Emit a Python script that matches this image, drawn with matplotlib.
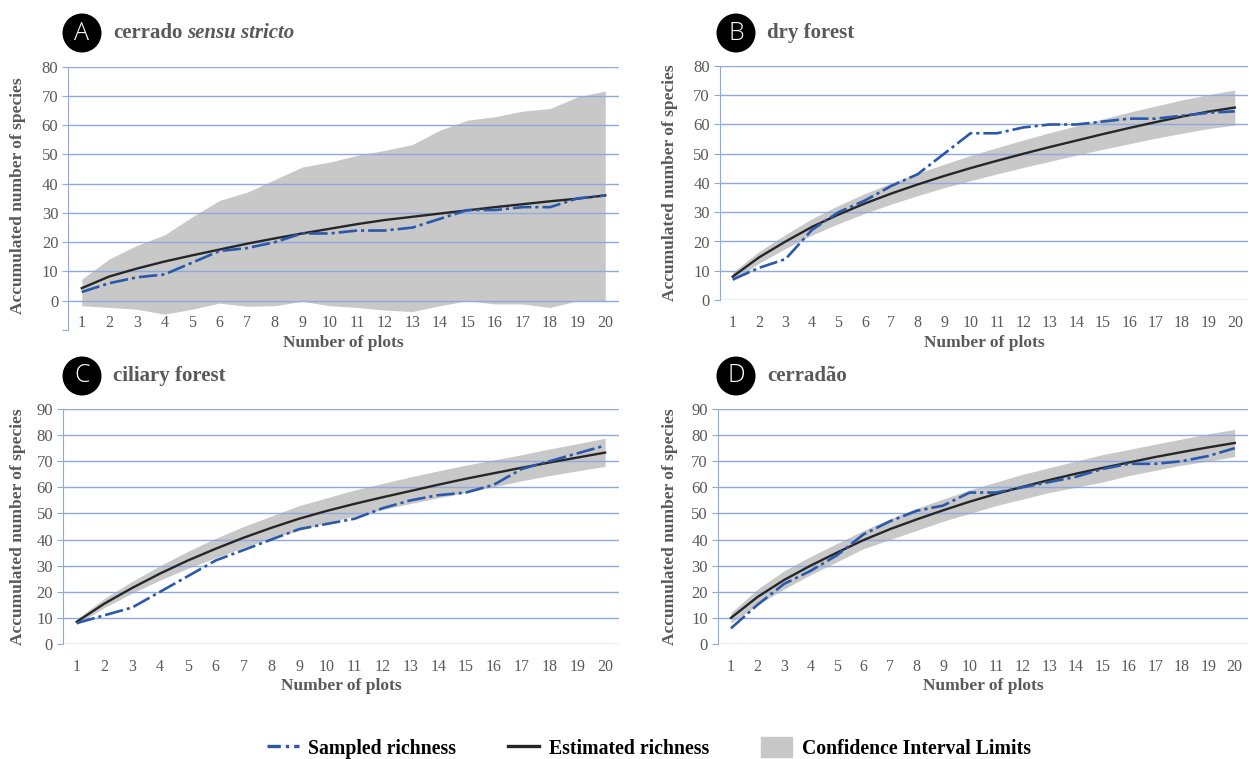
import matplotlib
matplotlib.use("Agg")
import matplotlib.pyplot as plt
from matplotlib.lines import Line2D
from matplotlib.patches import Patch, Ellipse

plt.rcParams['font.family'] = ['Liberation Serif', 'DejaVu Serif']

W, H = 1249, 759

plots = list(range(1, 21))

# A - cerrado sensu stricto
a_sampled = [3, 6, 8, 9, 13, 17, 18, 20, 23, 23, 24, 24, 25, 28, 31, 31, 32, 32, 35, 36]
a_estimated = [4.3, 8.3, 11.0, 13.4, 15.5, 17.5, 19.5, 21.3, 23.0, 24.6, 26.2, 27.6, 28.7, 29.8, 30.9, 32.0, 33.0, 34.0, 34.9, 36.0]
a_upper = [7.4, 14.3, 18.9, 22.5, 28.6, 34.3, 37.1, 41.4, 45.7, 47.4, 49.7, 51.4, 53.4, 58.3, 61.7, 62.9, 64.8, 65.7, 69.7, 71.7]
a_lower = [-1.7, -2.3, -2.9, -4.6, -2.9, -0.8, -1.9, -1.7, -0.2, -1.7, -2.3, -3.2, -3.7, -1.7, 0, -1.1, -1.1, -2.3, 0, 0]

# B - dry forest
b_sampled = [7, 11, 14, 24, 30, 34, 39, 43, 50, 57, 57, 59, 60, 60, 61, 62, 62, 63, 64, 64.5]
b_estimated = [8, 14.6, 20, 25, 29.2, 33, 36.4, 39.5, 42.4, 45.1, 47.6, 50, 52.3, 54.5, 56.7, 58.8, 60.8, 62.7, 64.4, 65.8]
b_upper = [9.5, 16.6, 22.4, 27.8, 32.3, 36.4, 40.0, 43.3, 46.4, 49.4, 52.1, 54.7, 57.2, 59.5, 61.9, 64.2, 66.3, 68.4, 70.2, 71.8]
b_lower = [6.5, 12.6, 17.6, 22.2, 26.1, 29.6, 32.8, 35.7, 38.4, 40.8, 43.1, 45.3, 47.4, 49.5, 51.5, 53.4, 55.3, 57.0, 58.6, 59.8]

# C - ciliary forest
c_sampled = [8, 11, 14, 20, 26, 32, 36, 40, 44, 46, 48, 52, 55, 57, 58, 61, 67, 70, 73, 76]
c_estimated = [8.5, 15.5, 21.5, 27, 32, 36.5, 40.7, 44.5, 48, 51, 53.7, 56.2, 58.6, 61, 63.3, 65.4, 67.5, 69.5, 71.4, 73.3]
c_upper = [9.5, 17.5, 24, 30, 35.5, 40.5, 45, 49, 53, 56, 59, 61.5, 64, 66.3, 68.5, 70.5, 72.5, 74.7, 76.7, 78.8]
c_lower = [7.5, 14, 19.5, 24.5, 29, 33, 37, 40.5, 43.5, 46.5, 49, 51.5, 53.8, 56, 58, 60.2, 62.5, 64.5, 66.3, 68]

# D - cerradão
d_sampled = [6, 15, 23, 28, 34, 42, 47, 51, 53, 58, 58, 60, 62, 64, 67, 69, 69, 70, 72, 75]
d_estimated = [10, 18, 24.5, 30, 35, 39.8, 44, 47.7, 51.2, 54.5, 57.5, 60.2, 62.8, 65.2, 67.4, 69.5, 71.6, 73.5, 75.3, 77]
d_upper = [12, 21, 28, 33.5, 38.5, 43.5, 48, 52, 55.5, 59, 62, 65, 67.5, 70, 72.5, 74.5, 76.5, 78.5, 80.5, 82.2]
d_lower = [8, 15, 21, 26.5, 31.5, 36.5, 40, 43.5, 47, 50, 53, 55.5, 58, 60, 62, 64.5, 66.5, 68.5, 70, 71.8]

blue = '#2A58AA'
black = '#262626'
ci_gray = '#C8C8C8'
grid_blue = '#8EA9DB'
text_gray = '#595959'
dash_style = [7, 1.5, 1.2, 1.5]

fig = plt.figure(figsize=(W / 100, H / 100), dpi=100)


def px(left, top, right, bottom):
    return [left / W, 1 - bottom / H, (right - left) / W, (bottom - top) / H]


def panel(rect, sampled, estimated, lower, upper, ymin, ymax, xpad):
    ax = fig.add_axes(rect)
    ax.fill_between(plots, lower, upper, color=ci_gray, lw=0)
    ax.plot(plots, estimated, color=black, lw=1.7)
    ax.plot(plots, sampled, color=blue, lw=1.9, dashes=dash_style)
    ax.set_xlim(0.5, 20.5)
    ax.set_ylim(ymin, ymax)
    ticks = list(range(ymin, ymax + 1, 10))
    ax.set_yticks(ticks)
    ax.set_yticklabels([str(t) if t >= 0 else '' for t in ticks])
    ax.set_xticks(plots)
    ax.grid(axis='y', color=grid_blue, lw=1)
    for t, gl in zip(ticks, ax.get_ygridlines()):
        if t < 0:
            gl.set_visible(False)
    for s in ['top', 'right', 'bottom']:
        ax.spines[s].set_visible(False)
    ax.spines['left'].set_color(grid_blue)
    ax.tick_params(axis='y', length=4, color=grid_blue, labelcolor=text_gray,
                   labelsize=12, pad=3)
    ax.tick_params(axis='x', length=0, labelcolor=text_gray, labelsize=11.5, pad=xpad)
    return ax


panel(px(68, 66.7, 619, 330), a_sampled, a_estimated, a_lower, a_upper, -10, 80, -10.8)
panel(px(719.5, 66, 1248, 300), b_sampled, b_estimated, b_lower, b_upper, 0, 80, 10.8)
panel(px(62.8, 409, 619, 644), c_sampled, c_estimated, c_lower, c_upper, 0, 90, 10.8)
panel(px(717.7, 409, 1248, 644), d_sampled, d_estimated, d_lower, d_upper, 0, 90, 10.8)

# axis labels
for x, y in [(18, 196), (670, 183), (18, 527), (670, 527)]:
    fig.text(x / W, 1 - y / H, 'Accumulated number of species', rotation=90,
             ha='center', va='center', fontsize=12.5, fontweight='bold', color=text_gray)
for x, y in [(343, 343), (984, 343), (341, 686), (983, 686)]:
    fig.text(x / W, 1 - y / H, 'Number of plots', ha='center', va='center',
             fontsize=12.5, fontweight='bold', color=text_gray)

# panel badges and titles
renderer = fig.canvas.get_renderer()
badges = [('A', 82, 33, 'cerrado', 'sensu stricto'),
          ('B', 736, 33, 'dry forest', None),
          ('C', 82, 376, 'ciliary forest', None),
          ('D', 736, 376, 'cerradão', None)]
r = 19.5
for letter, cx, cy, title, italic in badges:
    fig.add_artist(Ellipse((cx / W, 1 - cy / H), 2 * r / W, 2 * r / H,
                           transform=fig.transFigure, fc='black', ec='none'))
    fig.text(cx / W, 1 - cy / H, letter, color='white', ha='center', va='center',
             fontsize=18, family='Open Sans', fontweight='light')
    t = fig.text((cx + 31) / W, 1 - cy / H, title, ha='left', va='center',
                 fontsize=15, fontweight='bold', color=text_gray)
    if italic:
        bb = t.get_window_extent(renderer=renderer)
        fig.text((bb.x1 + 5) / W, 1 - cy / H, italic, ha='left', va='center',
                 fontsize=15, fontweight='bold', style='italic', color=text_gray)

# legend
handles = [Line2D([], [], color=blue, lw=2.4, dashes=[4, 1.5, 1, 1.5]),
           Line2D([], [], color=black, lw=2.4),
           Patch(color=ci_gray)]
labels = ['Sampled richness', 'Estimated richness', 'Confidence Interval Limits']
fig.legend(handles, labels, loc='center', bbox_to_anchor=(649 / W, 1 - 748 / H),
           ncol=3, frameon=False, prop={'weight': 'bold', 'size': 14.2},
           columnspacing=2.6, handlelength=1.6, handleheight=1.2, handletextpad=0.5)

fig.savefig('out.png', dpi=100)
